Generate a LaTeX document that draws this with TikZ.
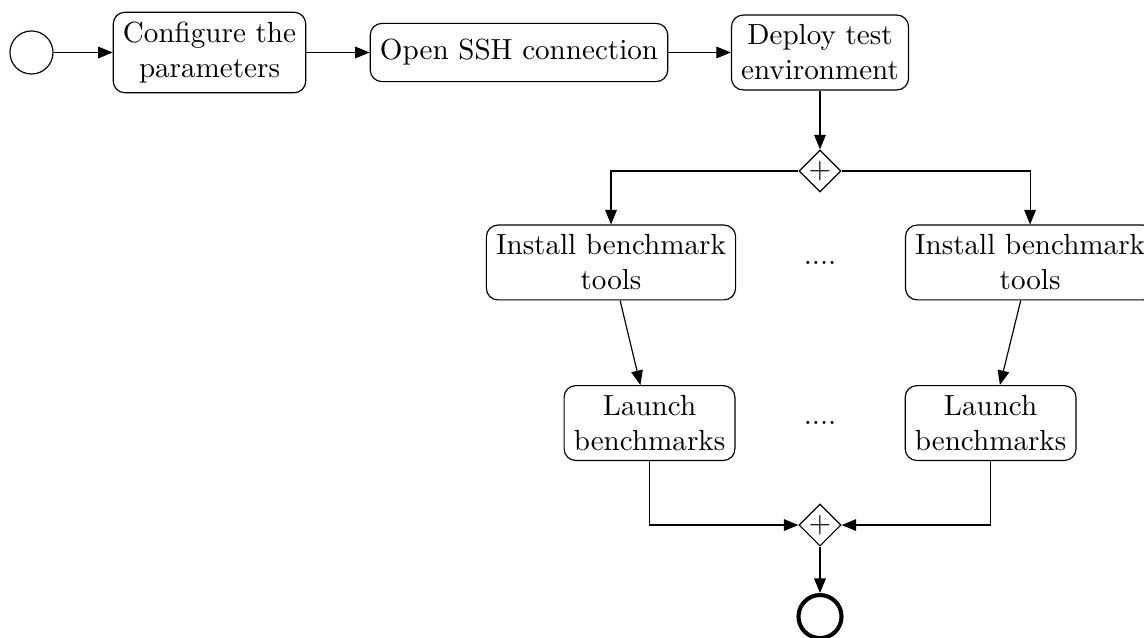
\documentclass[tikz,border=0pt]{standalone}
\usetikzlibrary{shapes.geometric,arrows.meta}
\begin{document}
\begin{tikzpicture}[
    task/.style={draw, rounded corners, align=center, minimum height=2em},
    gate/.style={draw, diamond, minimum size=0.507cm, inner sep=0pt},
    flow/.style={-{Triangle[length=5pt,width=4pt]}},
  ]
        \def\gx{9.903}
        \def\yA{-0.634}
        \def\yB{-3.170}
        \def\yC{-5.109}
        % 画布大小
        \useasboundingbox (0,0) rectangle (13.816,-7.693);
        % 开始事件
        \node[draw, circle, minimum size=0.52cm] (start) at (0.380,\yA) {};
        % 第一行任务
        \node[task] (config) at (2.530,\yA) {Configure the\\parameters};
        \node[task] (ssh) at (6.268,\yA) {Open SSH connection};
        \node[task] (deploy) at (\gx,\yA) {Deploy test\\environment};
        % 分支网关
        \node[gate] (split) at (\gx,-2.065) {$+$};
        % 并行任务
        \node[task] (install1) at (7.379,\yB) {Install benchmark\\tools};
        \node (dots1) at (\gx,\yB) {....};
        \node[task] (install2) at (12.440,\yB) {Install benchmark\\tools};
        \node[task] (launch1) at (7.844,\yC) {Launch\\benchmarks};
        \node (dots2) at (\gx,\yC) {....};
        \node[task] (launch2) at (11.963,\yC) {Launch\\benchmarks};
        % 合并网关和结束事件
        \node[gate] (join) at (\gx,-6.341) {$+$};
        \node[draw, circle, line width=1.4pt, minimum size=0.52cm] (stop) at (\gx,-7.446) {};
        % 连线
        \draw[flow] (start) -- (config);
        \draw[flow] (config) -- (ssh);
        \draw[flow] (ssh) -- (deploy);
        \draw[flow] (deploy) -- (split);
        \draw[flow] (split.west) -| (install1.north);
        \draw[flow] (split.east) -| (install2.north);
        \draw[flow] (install1) -- (launch1);
        \draw[flow] (install2) -- (launch2);
        \draw[flow] (launch1.south) |- (join.west);
        \draw[flow] (launch2.south) |- (join.east);
        \draw[flow] (join) -- (stop);
\end{tikzpicture}
\end{document}
